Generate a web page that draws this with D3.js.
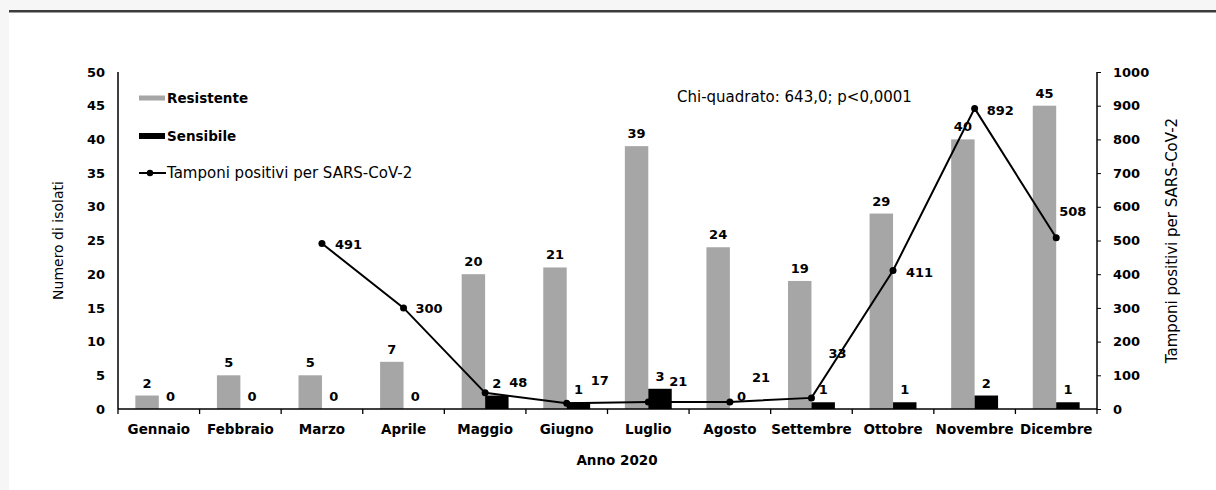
<!DOCTYPE html>
<html><head><meta charset="utf-8">
<script src="https://cdn.jsdelivr.net/npm/d3@7"></script>
<style>
html,body{margin:0;padding:0;background:#f6f6f6;}
svg{display:block;}
text{font-family:"DejaVu Sans",Verdana,sans-serif;fill:#000;}
</style></head>
<body>
<svg id="chart" width="1216" height="490"></svg>
<script>
const months = ["Gennaio","Febbraio","Marzo","Aprile","Maggio","Giugno","Luglio","Agosto","Settembre","Ottobre","Novembre","Dicembre"];
const resistente = [2,5,5,7,20,21,39,24,19,29,40,45];
const sensibile = [0,0,0,0,2,1,3,0,1,1,2,1];
const tamponi = [null,null,491,300,48,17,21,21,33,411,892,508];
const leftTicks = [0,5,10,15,20,25,30,35,40,45,50];
const rightTicks = [0,100,200,300,400,500,600,700,800,900,1000];
const seriesNames = ["Resistente","Sensibile","Tamponi positivi per SARS-CoV-2"];
const chiText = "Chi-quadrato: 643,0; p<0,0001";
// label nudges (dx, dy) for line labels, as placed in the original
const lineLabelNudge = [null,null,[13,1],[12,1],[24,-10],[24,-23],[21,-20],[22,-24],[17,-44],[13,2],[12,2],[3,-26]];

const svg = d3.select("#chart");
svg.append("rect").attr("x",9).attr("y",11).attr("width",1207).attr("height",479).attr("fill","#fff");
svg.append("rect").attr("x",9).attr("y",10).attr("width",1207).attr("height",2.5).attr("fill","#3c3c3c");

const L = 118, R = 1097, B = 409, T = 72;
const x = d3.scaleBand().domain(months).range([L,R]).padding(0);
const x1 = d3.scaleBand().domain(["r","s"]).range([0,x.bandwidth()]).paddingInner(0).paddingOuter(0.74);
const y = d3.scaleLinear().domain([0,50]).range([B,T]);
const y2 = d3.scaleLinear().domain([0,1000]).range([B,T]);
const grey = "#a6a6a6";

// bars
const g = svg.append("g");
g.selectAll("rect.r").data(resistente).join("rect")
  .attr("x",(d,i)=>x(months[i])+x1("r")).attr("width",x1.bandwidth())
  .attr("y",d=>y(d)).attr("height",d=>B-y(d)).attr("fill",grey);
g.selectAll("rect.s").data(sensibile).join("rect")
  .attr("x",(d,i)=>x(months[i])+x1("s")).attr("width",x1.bandwidth())
  .attr("y",d=>y(d)).attr("height",d=>B-y(d)).attr("fill","#000");

// axes
const axL = svg.append("g").attr("transform",`translate(${L},0)`)
  .call(d3.axisLeft(y).tickValues(leftTicks).tickFormat(d3.format("d")).tickSize(0).tickPadding(13));
const axR = svg.append("g").attr("transform",`translate(${R},0)`)
  .call(d3.axisRight(y2).tickValues(rightTicks).tickFormat(d3.format("d")).tickSize(4).tickPadding(12));
[axL,axR].forEach(a=>{
  a.select(".domain").attr("stroke","#000").attr("stroke-width",1.5);
  a.selectAll("line").attr("stroke","#000");
  a.selectAll("text").style("font-size","13px").style("font-weight","bold").attr("font-family",null);
});
axR.select(".domain").attr("d",`M0,${T}V${B}`);
axL.select(".domain").attr("d",`M0,${T}V${B}`);

const axB = svg.append("g").attr("transform",`translate(0,${B})`)
  .call(d3.axisBottom(x).tickSize(0).tickPadding(15));
axB.select(".domain").attr("d",`M${L},0H${R}`).attr("stroke","#000").attr("stroke-width",1.5);
axB.selectAll("text").style("font-size","13.5px").style("font-weight","bold").attr("font-family",null);
const bounds = months.map(m=>x(m)).concat([R]);
axB.selectAll("line.bt").data(bounds).join("line").attr("class","bt")
  .attr("x1",d=>d).attr("x2",d=>d).attr("y1",0).attr("y2",5).attr("stroke","#000").attr("stroke-width",1.3);

// value labels
const lab = svg.append("g").style("font-size","13px").style("font-weight","bold").attr("text-anchor","middle");
lab.selectAll("text.r").data(resistente).join("text")
  .attr("x",(d,i)=>x(months[i])+x1("r")+x1.bandwidth()/2).attr("y",d=>y(d)-8).text(d=>d);
lab.selectAll("text.s").data(sensibile).join("text")
  .attr("x",(d,i)=>x(months[i])+x1("s")+x1.bandwidth()/2).attr("y",d=>y(d)-8).text(d=>d);

// line
const pts = tamponi.map((v,i)=>({v,i})).filter(d=>d.v!==null);
const cx = d=>x(months[d.i])+x.bandwidth()/2;
svg.append("path").datum(pts)
  .attr("d",d3.line().x(cx).y(d=>y2(d.v)))
  .attr("fill","none").attr("stroke","#000").attr("stroke-width",2);
svg.append("g").selectAll("circle").data(pts).join("circle")
  .attr("cx",cx).attr("cy",d=>y2(d.v)).attr("r",3.5).attr("fill","#000");
svg.append("g").style("font-size","13px").style("font-weight","bold")
  .selectAll("text").data(pts).join("text")
  .attr("x",d=>cx(d)+lineLabelNudge[d.i][0]).attr("y",d=>y2(d.v)+lineLabelNudge[d.i][1])
  .attr("dy","0.35em").text(d=>d.v);

// axis titles
svg.append("text").attr("transform",`translate(58,${(T+B)/2}) rotate(-90)`)
  .attr("text-anchor","middle").attr("dy","0.35em").style("font-size","14px").text("Numero di isolati");
svg.append("text").attr("transform",`translate(1172,${(T+B)/2}) rotate(-90)`)
  .attr("text-anchor","middle").attr("dy","0.35em").style("font-size","15px").text("Tamponi positivi per SARS-CoV-2");
svg.append("text").attr("x",617).attr("y",460).attr("dy","0.35em").attr("text-anchor","middle")
  .style("font-size","13.5px").style("font-weight","bold").text("Anno 2020");

// chi text
svg.append("text").attr("x",677).attr("y",97).attr("dy","0.35em").style("font-size","15px").text(chiText);

// legend
const lg = svg.append("g");
const ly = [98,136,173];
lg.append("rect").attr("x",139).attr("y",ly[0]-2.5).attr("width",26).attr("height",5).attr("fill",grey);
lg.append("rect").attr("x",139).attr("y",ly[1]-3).attr("width",26).attr("height",6).attr("fill","#000");
lg.append("line").attr("x1",139).attr("x2",166).attr("y1",ly[2]).attr("y2",ly[2]).attr("stroke","#000").attr("stroke-width",2);
lg.append("circle").attr("cx",150).attr("cy",ly[2]).attr("r",3.2).attr("fill","#000");
lg.selectAll("text").data(seriesNames).join("text")
  .attr("x",167).attr("y",(d,i)=>ly[i]).attr("dy","0.35em")
  .style("font-size",(d,i)=>i<2?"13.5px":"15px")
  .style("font-weight",(d,i)=>i<2?"bold":"normal").text(d=>d);
</script>
</body></html>
